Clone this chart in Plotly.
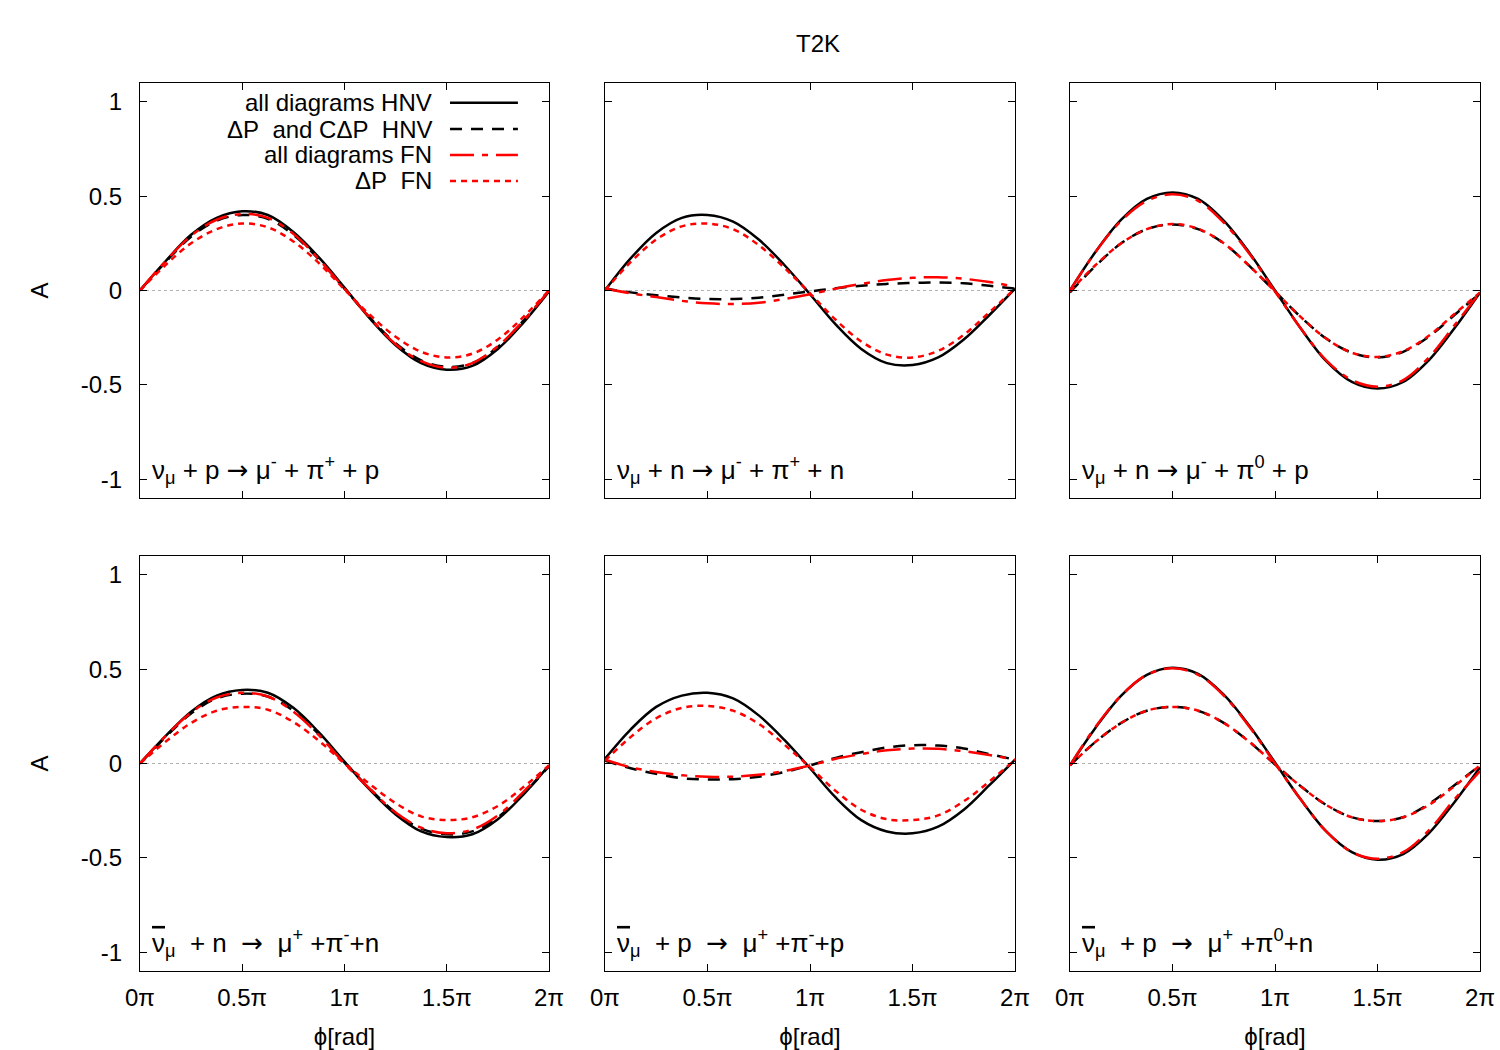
import plotly.graph_objects as go

# ---------------- data ----------------
phi_pi = [0, 0.125, 0.25, 0.375, 0.5, 0.625, 0.75, 0.875, 1.0,
          1.125, 1.25, 1.375, 1.5, 1.625, 1.75, 1.875, 2.0]

series_names = ["all diagrams HNV", "\u0394P\u00a0 and C\u0394P\u00a0 HNV",
                "all diagrams FN", "\u0394P\u00a0 FN"]

# panel 1: nu_mu + p -> mu- + pi+ + p
p1_all_hnv = [0.00, 0.155, 0.295, 0.385, 0.42, 0.40, 0.31, 0.175, 0.015, -0.15, -0.29, -0.385, -0.42, -0.40, -0.31, -0.17, -0.005]
p1_dp_hnv = [0.00, 0.15, 0.285, 0.37, 0.40, 0.38, 0.295, 0.165, 0.01, -0.145, -0.28, -0.37, -0.405, -0.385, -0.30, -0.16, -0.005]
p1_all_fn = [0.00, 0.155, 0.29, 0.375, 0.405, 0.385, 0.30, 0.165, 0.01, -0.145, -0.285, -0.375, -0.41, -0.385, -0.295, -0.16, 0.00]
p1_dp_fn = [0.00, 0.135, 0.25, 0.325, 0.355, 0.335, 0.26, 0.145, 0.005, -0.13, -0.245, -0.325, -0.355, -0.335, -0.26, -0.14, 0.00]

# panel 2: nu_mu + n -> mu- + pi+ + n
p2_all_hnv = [0.00, 0.17, 0.305, 0.385, 0.40, 0.365, 0.27, 0.135, -0.02, -0.18, -0.31, -0.385, -0.395, -0.355, -0.26, -0.13, 0.01]
p2_dp_hnv = [0.01, -0.01, -0.025, -0.037, -0.045, -0.045, -0.038, -0.022, -0.005, 0.012, 0.025, 0.035, 0.04, 0.042, 0.038, 0.025, 0.01]
p2_all_fn = [0.01, -0.015, -0.035, -0.055, -0.068, -0.072, -0.065, -0.045, -0.02, 0.01, 0.035, 0.055, 0.067, 0.07, 0.062, 0.045, 0.02]
p2_dp_fn = [0.00, 0.15, 0.27, 0.34, 0.355, 0.325, 0.24, 0.12, -0.015, -0.155, -0.27, -0.34, -0.355, -0.32, -0.235, -0.115, 0.01]

# panel 3: nu_mu + n -> mu- + pi0 + p
p3_all_hnv = [0.00, 0.205, 0.375, 0.485, 0.52, 0.485, 0.37, 0.20, 0.00, -0.20, -0.375, -0.485, -0.52, -0.485, -0.37, -0.20, -0.01]
p3_dp_hnv = [-0.01, 0.13, 0.25, 0.325, 0.35, 0.325, 0.25, 0.13, -0.005, -0.14, -0.255, -0.33, -0.355, -0.325, -0.245, -0.13, -0.015]
p3_all_fn = [0.00, 0.205, 0.37, 0.475, 0.51, 0.475, 0.36, 0.195, -0.005, -0.20, -0.37, -0.475, -0.51, -0.475, -0.355, -0.185, -0.01]
p3_dp_fn = [-0.005, 0.135, 0.25, 0.325, 0.352, 0.327, 0.25, 0.13, -0.005, -0.14, -0.255, -0.33, -0.352, -0.322, -0.24, -0.125, -0.01]

# panel 4: anti-nu_mu + n -> mu+ + pi- + n
p4_all_hnv = [0.00, 0.145, 0.275, 0.36, 0.39, 0.375, 0.295, 0.165, 0.01, -0.14, -0.27, -0.36, -0.39, -0.375, -0.295, -0.165, -0.01]
p4_dp_hnv = [0.00, 0.14, 0.265, 0.345, 0.37, 0.355, 0.28, 0.155, 0.005, -0.135, -0.26, -0.345, -0.375, -0.36, -0.285, -0.16, -0.015]
p4_all_fn = [0.00, 0.145, 0.27, 0.35, 0.375, 0.355, 0.275, 0.15, 0.00, -0.135, -0.26, -0.34, -0.37, -0.35, -0.275, -0.15, -0.01]
p4_dp_fn = [0.00, 0.115, 0.215, 0.28, 0.30, 0.285, 0.22, 0.12, 0.00, -0.11, -0.21, -0.28, -0.30, -0.285, -0.225, -0.125, -0.01]

# panel 5: anti-nu_mu + p -> mu+ + pi- + p
p5_all_hnv = [0.025, 0.18, 0.30, 0.36, 0.375, 0.345, 0.255, 0.125, -0.025, -0.18, -0.30, -0.36, -0.37, -0.335, -0.245, -0.115, 0.02]
p5_dp_hnv = [0.015, -0.025, -0.055, -0.078, -0.085, -0.083, -0.07, -0.045, -0.01, 0.03, 0.06, 0.085, 0.097, 0.095, 0.08, 0.05, 0.02]
p5_all_fn = [0.02, -0.02, -0.045, -0.062, -0.07, -0.07, -0.06, -0.04, -0.01, 0.025, 0.05, 0.07, 0.079, 0.078, 0.065, 0.045, 0.02]
p5_dp_fn = [0.015, 0.14, 0.24, 0.295, 0.305, 0.28, 0.21, 0.10, -0.02, -0.145, -0.245, -0.295, -0.30, -0.275, -0.20, -0.095, 0.02]

# panel 6: anti-nu_mu + p -> mu+ + pi0 + n
p6_all_hnv = [-0.01, 0.19, 0.36, 0.47, 0.508, 0.475, 0.365, 0.20, 0.005, -0.19, -0.36, -0.47, -0.51, -0.48, -0.37, -0.205, -0.02]
p6_dp_hnv = [-0.01, 0.115, 0.215, 0.28, 0.30, 0.28, 0.215, 0.115, -0.005, -0.12, -0.22, -0.285, -0.305, -0.285, -0.215, -0.115, -0.01]
p6_all_fn = [-0.01, 0.195, 0.36, 0.47, 0.505, 0.47, 0.36, 0.195, 0.00, -0.19, -0.36, -0.47, -0.505, -0.47, -0.355, -0.19, -0.04]
p6_dp_fn = [-0.01, 0.115, 0.215, 0.28, 0.30, 0.28, 0.215, 0.115, -0.005, -0.12, -0.22, -0.285, -0.305, -0.285, -0.22, -0.12, -0.01]

panels = [
    [p1_all_hnv, p1_dp_hnv, p1_all_fn, p1_dp_fn],
    [p2_all_hnv, p2_dp_hnv, p2_all_fn, p2_dp_fn],
    [p3_all_hnv, p3_dp_hnv, p3_all_fn, p3_dp_fn],
    [p4_all_hnv, p4_dp_hnv, p4_all_fn, p4_dp_fn],
    [p5_all_hnv, p5_dp_hnv, p5_all_fn, p5_dp_fn],
    [p6_all_hnv, p6_dp_hnv, p6_all_fn, p6_dp_fn],
]

NUBAR = '<span style="text-decoration:overline">\u03bd</span>'
ARR = '<span style="font-family:DejaVu Sans">\u2192</span>'
panel_labels = [
    "\u03bd<sub>\u03bc</sub> + p " + ARR + " \u03bc<sup>-</sup> + \u03c0<sup>+</sup> + p",
    "\u03bd<sub>\u03bc</sub> + n " + ARR + " \u03bc<sup>-</sup> + \u03c0<sup>+</sup> + n",
    "\u03bd<sub>\u03bc</sub> + n " + ARR + " \u03bc<sup>-</sup> + \u03c0<sup>0</sup> + p",
    NUBAR + "<sub>\u03bc</sub>\u00a0 + n\u00a0 " + ARR + "\u00a0 \u03bc<sup>+</sup> +\u03c0<sup>-</sup>+n",
    NUBAR + "<sub>\u03bc</sub>\u00a0 + p\u00a0 " + ARR + "\u00a0 \u03bc<sup>+</sup> +\u03c0<sup>-</sup>+p",
    NUBAR + "<sub>\u03bc</sub>\u00a0 + p\u00a0 " + ARR + "\u00a0 \u03bc<sup>+</sup> +\u03c0<sup>0</sup>+n",
]

x_tickvals = [0, 0.5, 1, 1.5, 2]
x_ticktext = ["0\u03c0", "0.5\u03c0", "1\u03c0", "1.5\u03c0", "2\u03c0"]
y_tickvals = [-1, -0.5, 0, 0.5, 1]
y_ticktext = ["-1", "-0.5", "0", "0.5", "1"]

# ---------------- styles ----------------
FONT = "Liberation Sans, Arial, Helvetica, sans-serif"
FS = 24
FS_TXT = 26
FS_LEG = 24
styles = [
    dict(color="black", width=2.5, dash="solid"),
    dict(color="black", width=2.5, dash="12px,9px"),
    dict(color="red", width=2.5, dash="24px,8px,6px,8px"),
    dict(color="red", width=2.5, dash="6px,5px"),
]

xdomains = [[0.0933, 0.366], [0.4033, 0.6767], [0.7133, 0.9867]]
ydomains = [[0.5257, 0.921], [0.0752, 0.4705]]

fig = go.Figure()
layout = dict(
    width=1500, height=1050,
    margin=dict(l=0, r=0, t=0, b=0, autoexpand=False),
    paper_bgcolor="white", plot_bgcolor="white",
    showlegend=False,
    font=dict(family=FONT, size=FS, color="black"),
)

annotations = []
shapes = []

for i, data in enumerate(panels):
    n = i + 1
    row, col = i // 3, i % 3
    xa = "x" if n == 1 else f"x{n}"
    ya = "y" if n == 1 else f"y{n}"
    # zero reference line
    fig.add_trace(go.Scatter(x=[x_tickvals[0], x_tickvals[-1]], y=[0, 0], mode="lines",
                             line=dict(color="#b0b0b0", width=1, dash="dot"),
                             xaxis=xa, yaxis=ya, hoverinfo="skip"))
    for s, yv in enumerate(data):
        fig.add_trace(go.Scatter(x=phi_pi, y=yv, mode="lines", name=series_names[s],
                                 line=dict(shape="spline", **styles[s]),
                                 xaxis=xa, yaxis=ya))
    xax = dict(
        domain=xdomains[col], anchor=ya, range=[0, 2], automargin=False,
        tickvals=x_tickvals, ticktext=x_ticktext, showticklabels=(row == 1),
        ticks="inside", ticklen=7, tickcolor="black", tickwidth=1,
        showline=True, linecolor="black", linewidth=1, mirror="ticks",
        showgrid=False, zeroline=False, ticklabelstandoff=5,
        tickfont=dict(family=FONT, size=FS),
    )
    if row == 1:
        xax["title"] = dict(text="\u03d5[rad]", font=dict(family=FONT, size=FS), standoff=18)
    yax = dict(
        domain=ydomains[row], anchor=xa, range=[-1.1, 1.1], automargin=False,
        tickvals=y_tickvals, ticktext=y_ticktext, showticklabels=(col == 0),
        ticks="inside", ticklen=7, tickcolor="black", tickwidth=1,
        showline=True, linecolor="black", linewidth=1, mirror="ticks",
        showgrid=False, zeroline=False, ticklabelstandoff=12,
        tickfont=dict(family=FONT, size=FS),
    )
    if col == 0:
        yax["title"] = dict(text="A", font=dict(family=FONT, size=FS), standoff=25)
    layout["xaxis" if n == 1 else f"xaxis{n}"] = xax
    layout["yaxis" if n == 1 else f"yaxis{n}"] = yax
    annotations.append(dict(
        text=panel_labels[i], xref=f"{xa} domain", yref=f"{ya} domain",
        x=0.025, y=0.02, xanchor="left", yanchor="bottom", showarrow=False,
        font=dict(family=FONT, size=FS_TXT),
    ))

# custom legend (text right-aligned, sample to the right) in panel 1
leg_y = [0.952, 0.889, 0.8265, 0.764]
for s in range(4):
    annotations.append(dict(
        text=series_names[s], xref="x domain", yref="y domain",
        x=0.716, y=leg_y[s], xanchor="right", yanchor="middle", showarrow=False,
        borderpad=0, font=dict(family=FONT, size=FS_LEG),
    ))
    shapes.append(dict(type="line", xref="x domain", yref="y domain",
                       x0=0.758, x1=0.924, y0=leg_y[s], y1=leg_y[s],
                       line=dict(color=styles[s]["color"], width=styles[s]["width"],
                                 dash=styles[s]["dash"])))

annotations.append(dict(text="T2K", xref="paper", yref="paper", x=0.545, y=1 - 44 / 1050,
                        xanchor="center", yanchor="middle", showarrow=False,
                        font=dict(family=FONT, size=FS)))

layout["annotations"] = annotations
layout["shapes"] = shapes
fig.update_layout(**layout)
fig.write_html("out.html")
